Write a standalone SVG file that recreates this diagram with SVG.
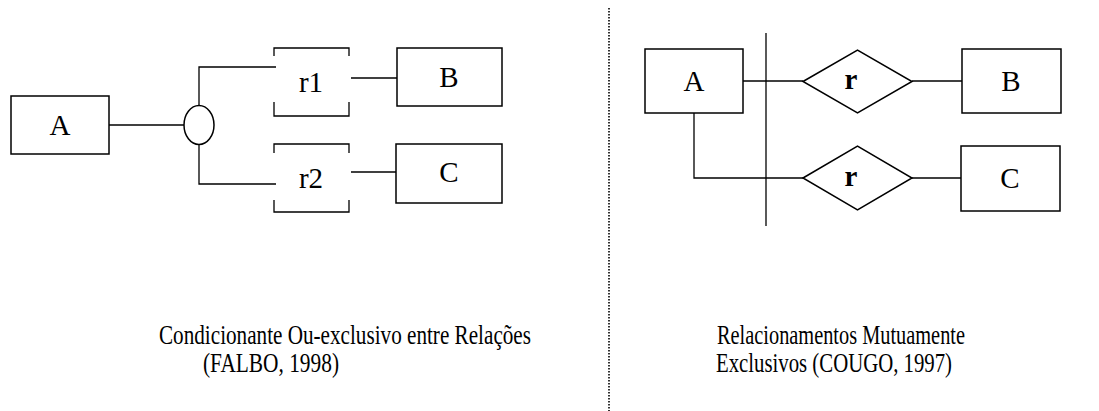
<svg xmlns="http://www.w3.org/2000/svg" width="1099" height="411" viewBox="0 0 1099 411">
<style>
.box{fill:#fff;stroke:#000;stroke-width:1.5}
.ln{fill:none;stroke:#000;stroke-width:1.3}
.t{font-family:"Liberation Serif","Times New Roman",serif;font-size:29px;fill:#000;text-anchor:middle}
.b{font-weight:bold}
.cap{font-family:"Liberation Serif","Times New Roman",serif;font-size:28px;fill:#000;text-anchor:middle}
</style>
<rect width="1099" height="411" fill="#fff"/>
<g id="connectors">
<path class="ln" d="M109 125H184"/>
<path class="ln" d="M199 105.5V67H276"/>
<path class="ln" d="M199 144.5V184H276"/>
<path class="ln" d="M351 78H397"/>
<path class="ln" d="M351 172H396"/>
<path class="ln" d="M743 81H803"/>
<path class="ln" d="M912 81H962"/>
<path class="ln" d="M694 113V178H803"/>
<path class="ln" d="M912 178H961"/>
<path class="ln" d="M766 33V226"/>
<path fill="none" stroke="#000" stroke-width="1.6" stroke-dasharray="1.5 1.5" d="M609 8V411"/>
</g>
<g id="left-A"><rect class="box" x="11" y="96" width="98" height="58"/><text class="t" x="60" y="135">A</text></g>
<g id="xor"><ellipse class="box" cx="199" cy="125" rx="15" ry="19.5"/></g>
<g id="r1"><path class="ln" d="M274 56V48H349V56M274 102V116H349V102"/><text class="t" x="311" y="92">r1</text></g>
<g id="r2"><path class="ln" d="M274 153V144H349V153M274 200V212H349V200"/><text class="t" x="311" y="188">r2</text></g>
<g id="left-B"><rect class="box" x="397" y="48" width="105" height="58"/><text class="t" x="449" y="87">B</text></g>
<g id="left-C"><rect class="box" x="396" y="144" width="106" height="59"/><text class="t" x="449" y="182">C</text></g>
<g id="right-A"><rect class="box" x="645" y="49" width="98" height="64"/><text class="t" x="694" y="91">A</text></g>
<g id="rel1"><polygon class="box" points="803,81.5 857.5,50 912,81.5 857.5,113"/><text class="t b" x="851" y="89">r</text></g>
<g id="rel2"><polygon class="box" points="803,178 857.5,146 912,178 857.5,210"/><text class="t b" x="851" y="186">r</text></g>
<g id="right-B"><rect class="box" x="962" y="49" width="99" height="64"/><text class="t" x="1011" y="91">B</text></g>
<g id="right-C"><rect class="box" x="961" y="146" width="99" height="65"/><text class="t" x="1010" y="188">C</text></g>
<g id="captions">
<text class="cap" x="345" y="344" textLength="372" lengthAdjust="spacingAndGlyphs">Condicionante Ou-exclusivo entre Relações</text>
<text class="cap" x="271" y="372" textLength="136" lengthAdjust="spacingAndGlyphs">(FALBO, 1998)</text>
<text class="cap" x="841" y="344" textLength="248" lengthAdjust="spacingAndGlyphs">Relacionamentos Mutuamente</text>
<text class="cap" x="834" y="372" textLength="236" lengthAdjust="spacingAndGlyphs">Exclusivos (COUGO, 1997)</text>
</g>
</svg>
